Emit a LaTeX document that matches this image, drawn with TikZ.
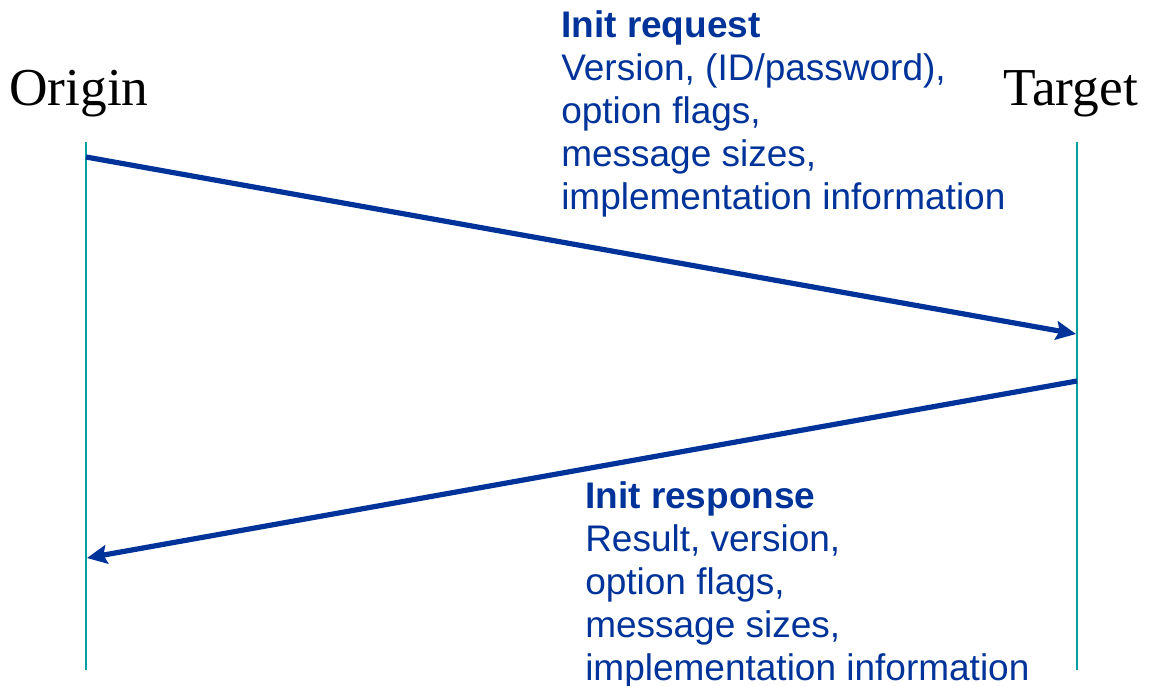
\documentclass[tikz,border=0pt]{standalone}
\usepackage{fontspec}
\setmainfont{Liberation Serif}
\newfontfamily\labelfont{Liberation Sans}
\usetikzlibrary{arrows.meta}
\definecolor{msgblue}{RGB}{0,51,153}
\definecolor{lifeteal}{RGB}{0,160,160}
\tikzset{
  lifeline/.style={draw=lifeteal, line width=1.5pt},
  message/.style={draw=msgblue, line width=3.9pt,
    -{Stealth[length=15pt, width=14pt, inset=2.5pt]}},
  actor/.style={font=\fontsize{40}{46}\selectfont, inner sep=0pt, anchor=base west},
  msglabel/.style={font=\labelfont\fontsize{27.75}{32.25}\selectfont, text=msgblue,
    align=left, inner sep=0pt, anchor=north west}
}
\begin{document}
\begin{tikzpicture}[x=0.75pt, y=-0.75pt]
\useasboundingbox (0,0) rectangle (1151,685);

% participants
\node[actor] (origin) at (9,105) {Origin};
\node[actor] (target) at (1003,105) {Target};

% lifelines
\coordinate (otop) at (86,142);
\coordinate (obot) at (86,670);
\coordinate (ttop) at (1077,142);
\coordinate (tbot) at (1077,670);
\draw[lifeline] (otop) -- (obot);
\draw[lifeline] (ttop) -- (tbot);

% message end points
\coordinate (reqstart) at (86,157);
\coordinate (reqend) at (1076,334);
\coordinate (respstart) at (1077,381);
\coordinate (respend) at (87,558);
\draw[message] (reqstart) -- (reqend);
\draw[message] (respstart) -- (respend);

% message contents
\node[msglabel] (reqlabel) at (561,10)
  {\textbf{Init request}\\Version, (ID/password),\\option flags,\\message sizes,\\implementation information};
\node[msglabel] (resplabel) at (585,481)
  {\textbf{Init response}\\Result, version,\\option flags,\\message sizes,\\implementation information};
\end{tikzpicture}
\end{document}
